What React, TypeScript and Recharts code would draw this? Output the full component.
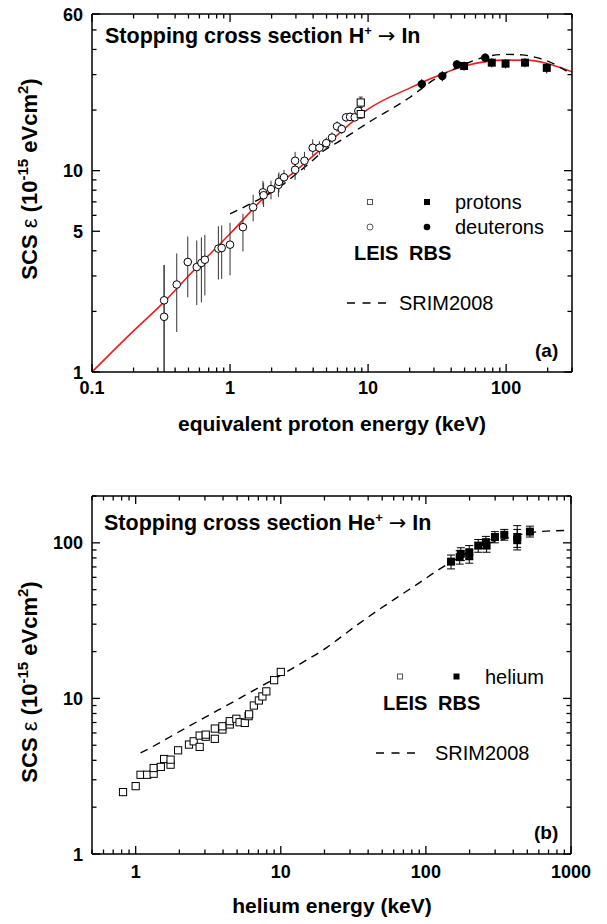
import React from 'react';
import { ComposedChart, Line, Scatter, XAxis, YAxis, ErrorBar } from 'recharts';

const FONT = '"Liberation Sans", Arial, Helvetica, sans-serif';

// ---------- panel (a): H+ -> In ----------
const A_X_TICKS = [0.1, 0.2, 0.3, 0.4, 0.5, 0.6, 0.7, 0.8, 0.9, 1, 2, 3, 4, 5, 6, 7, 8, 9, 10, 20, 30, 40, 50, 60, 70, 80, 90, 100, 200, 300];
const A_X_MAJOR = [0.1, 1, 10, 100];
const A_Y_TICKS = [1, 2, 3, 4, 5, 6, 7, 8, 9, 10, 20, 30, 40, 50, 60];
const A_Y_MAJOR = [1, 5, 10, 60];

// [E keV, S, lower, upper]
const A_LEIS_D = [
  [0.333, 2.27, 1.0, 3.4], [0.333, 1.88, 1.0, 3.4], [0.411, 2.72, 1.58, 3.88], [0.494, 3.52, 2.35, 4.71],
  [0.574, 3.32, 2.15, 4.5], [0.62, 3.48, 2.22, 4.66], [0.657, 3.61, 2.4, 4.8], [0.823, 4.1, 2.88, 5.3],
  [0.87, 4.13, 2.9, 5.35], [1.0, 4.29, 3.02, 5.5], [1.24, 5.24, 3.97, 6.1], [1.47, 6.58, 5.6, 7.6],
  [1.73, 7.8, 6.8, 8.9], [1.75, 7.55, 6.6, 8.7], [1.98, 8.1, 7.2, 8.9], [2.24, 8.5, 7.4, 9.6],
  [2.26, 8.8, 7.8, 9.8], [2.46, 9.27, 8.5, 10.1], [2.96, 10.1, 9.0, 11.4], [2.96, 11.2, 10.2, 12.4],
  [3.46, 11.2, 10.1, 12.4], [3.97, 13.0, 11.9, 14.3], [4.44, 13.0, 12.0, 14.0], [4.98, 13.7, 12.8, 14.6],
  [5.48, 14.6, 13.7, 15.5], [5.96, 16.6, 15.6, 17.6], [6.44, 16.1, 15.2, 17.0], [6.93, 18.4, 17.5, 19.3],
  [7.4, 18.5, 17.6, 19.4], [8.0, 18.4, 17.6, 19.2], [8.5, 19.8, 18.9, 20.7],
];
const A_LEIS_P = [[8.85, 21.8, 20.6, 23.2], [8.85, 19.1, 18.2, 20.0]];
const A_RBS_D = [[24.5, 26.9, 25.3, 28.5], [34.5, 29.5, 27.8, 31.2], [44, 33.7, 32, 35.4], [70.5, 36.4, 34.6, 38.2]];
const A_RBS_P = [[49.6, 33.1, 31.4, 34.8], [78.7, 34.4, 32.6, 36.2], [99, 34.0, 32.2, 35.8], [137, 34.4, 32.6, 36.2], [197, 32.4, 30.4, 34.4]];

const A_FIT_E = [0.1, 0.2, 0.333, 0.5, 1, 2, 3, 6.3, 10, 20, 30, 50, 100, 150, 200, 300];
const A_FIT_S = [1.0, 1.6, 2.23, 3.0, 4.86, 8.0, 10.0, 15.5, 20.2, 25.7, 29.1, 33.1, 35.4, 35.3, 34, 31];
const A_SRIM_E = [1, 1.5, 2.06, 3, 4, 4.8, 6.3, 10, 20, 30, 50, 70, 100, 130, 170, 200, 300];
const A_SRIM_S = [6.1, 7.0, 7.9, 9.6, 11.3, 12.6, 14.1, 17.3, 23.1, 28.3, 33.7, 36.7, 37.8, 37.6, 36.3, 35, 30];

// ---------- panel (b): He+ -> In ----------
const B_X_TICKS = [0.5, 0.6, 0.7, 0.8, 0.9, 1, 2, 3, 4, 5, 6, 7, 8, 9, 10, 20, 30, 40, 50, 60, 70, 80, 90, 100, 200, 300, 400, 500, 600, 700, 800, 900, 1000];
const B_X_MAJOR = [1, 10, 100, 1000];
const B_Y_TICKS = [1, 2, 3, 4, 5, 6, 7, 8, 9, 10, 20, 30, 40, 50, 60, 70, 80, 90, 100, 200];
const B_Y_MAJOR = [1, 10, 100];

const B_LEIS = [
  [0.818, 2.5], [1.0, 2.73], [1.08, 3.23], [1.2, 3.23], [1.33, 3.28], [1.33, 3.57], [1.49, 3.63], [1.57, 4.08],
  [1.74, 3.75], [1.74, 4.04], [1.96, 4.64], [2.33, 5.05], [2.51, 5.3], [2.76, 4.88], [2.76, 5.77], [3.04, 5.67],
  [3.04, 5.85], [3.51, 5.5], [3.51, 6.4], [3.96, 6.31], [3.96, 6.62], [4.45, 6.8], [4.45, 7.14], [4.94, 7.4],
  [5.2, 7.03], [5.65, 6.96], [6.0, 7.69], [6.05, 7.9], [6.52, 9.0], [7.06, 9.7], [7.47, 10.3], [7.95, 11.1],
  [9.0, 13.1], [10.0, 14.8],
];
const B_RBS = [
  [149, 75.7, 68, 83.5], [171, 80.9, 73, 89], [174, 85, 77, 93], [199, 87, 79, 96], [199, 82, 74, 90],
  [229.5, 96, 87, 105], [259, 101, 92, 110], [262, 96, 87, 105], [299, 109, 100, 118], [347, 112.6, 104, 122],
  [426, 109, 93.5, 129], [426, 104, 90, 122], [521, 118, 109, 128],
];
const B_SRIM_E = [1.08, 1.5, 1.96, 3, 4.94, 7, 10, 15, 20.7, 25.5, 35, 48, 66, 91, 125, 149, 200, 250, 324, 430, 550, 680, 938];
const B_SRIM_S = [4.46, 5.25, 6.06, 7.55, 9.75, 11.7, 14.1, 17.6, 21.2, 24.5, 30.5, 37.5, 45.7, 55.7, 68, 75, 88, 97, 104, 112, 117, 119, 120];

const pts = (rows: number[][]) =>
  rows.map(r => (r.length > 2 ? { E: r[0], S: r[1], err: [r[1] - r[2], r[3] - r[1]] } : { E: r[0], S: r[1] }));
const curve = (es: number[], ss: number[]) => es.map((E, i) => ({ E, S: ss[i] }));

type Side = 'left' | 'right' | 'top' | 'bottom';

function makeTick(side: Side, majors: number[], labelDy = 22) {
  return function Tick(props: any) {
    const { x, y, payload } = props;
    const v = Number(payload.value);
    const major = majors.some(m => Math.abs(m - v) < 1e-9);
    const len = major ? 8 : 4.5;
    let x2 = x;
    let y2 = y;
    if (side === 'left') x2 = x + len;
    if (side === 'right') x2 = x - len;
    if (side === 'top') y2 = y + len;
    if (side === 'bottom') y2 = y - len;
    return (
      <g>
        <line x1={x} y1={y} x2={x2} y2={y2} stroke="#000" strokeWidth={1.3} />
        {major && side === 'left' && (
          <text x={x - 9} y={y + 6.5} textAnchor="end" fontSize={18} fontWeight="bold" fontFamily={FONT} fill="#000">
            {String(v)}
          </text>
        )}
        {major && side === 'bottom' && (
          <text x={x} y={y + labelDy} textAnchor="middle" fontSize={18} fontWeight="bold" fontFamily={FONT} fill="#000">
            {String(v)}
          </text>
        )}
      </g>
    );
  };
}

const openCircle = (p: any) => <circle cx={p.cx} cy={p.cy} r={3.8} fill="#fff" stroke="#000" strokeWidth={1} />;
const filledCircle = (p: any) => <circle cx={p.cx} cy={p.cy} r={4.2} fill="#000" />;
const openSquare = (p: any) => <rect x={p.cx - 3.6} y={p.cy - 3.6} width={7.2} height={7.2} fill="#fff" stroke="#000" strokeWidth={1} />;
const filledSquare = (p: any) => <rect x={p.cx - 4} y={p.cy - 4} width={8} height={8} fill="#000" />;

const axisLine = { stroke: '#000', strokeWidth: 1.5 };

// axes of size 1 px: Recharts skips drawing an axis whose box is empty
function axisSet(xDomain: number[], yDomain: number[], xTicks: number[], xMajor: number[], yTicks: number[], yMajor: number[], labelDy: number) {
  const common = { type: 'number' as const, scale: 'log' as const, allowDataOverflow: true, interval: 0 as const, tickLine: false, tickSize: 0, tickMargin: 0, axisLine };
  return [
    <XAxis key="xb" xAxisId="b" dataKey="E" domain={xDomain} ticks={xTicks} height={1} tick={makeTick('bottom', xMajor, labelDy)} {...common} />,
    <XAxis key="xt" xAxisId="t" orientation="top" dataKey="E" domain={xDomain} ticks={xTicks} height={1} tick={makeTick('top', xMajor)} {...common} />,
    <YAxis key="yl" yAxisId="l" dataKey="S" domain={yDomain} ticks={yTicks} width={1} tick={makeTick('left', yMajor)} {...common} />,
    <YAxis key="yr" yAxisId="r" orientation="right" dataKey="S" domain={yDomain} ticks={yTicks} width={1} tick={makeTick('right', yMajor)} {...common} />,
  ];
}

const txt = (props: any) => ({ fontFamily: FONT, fill: '#000', ...props });

function YLabel({ cy }: { cy: number }) {
  return (
    <text {...txt({ fontSize: 22, fontWeight: 'bold' })} transform="rotate(-90)" x={-cy} y={37} textAnchor="middle">
      SCS <tspan fontWeight="normal">ε</tspan> (10<tspan dy={-9} fontSize={15}>-15</tspan>
      <tspan dy={9}> eVcm</tspan><tspan dy={-9} fontSize={15}>2</tspan><tspan dy={9}>)</tspan>
    </text>
  );
}

function Title({ x, y, ion }: { x: number; y: number; ion: string }) {
  return (
    <text {...txt({ fontSize: 21.5, fontWeight: 'bold' })} x={x} y={y}>
      Stopping cross section {ion}<tspan dy={-8} fontSize={13}>+</tspan>
      <tspan dy={8}> </tspan><tspan fontFamily='"DejaVu Sans"' fontWeight="normal" fontSize={21}>→</tspan><tspan> In</tspan>
    </text>
  );
}

export default function App() {
  return (
    <div style={{ position: 'absolute', left: 0, top: 0, width: 607, height: 924, background: '#fff' }}>
      <ComposedChart width={607} height={462} margin={{ top: 13, right: 34, bottom: 89, left: 91 }}>
        {axisSet([0.1, 300], [1, 60], A_X_TICKS, A_X_MAJOR, A_Y_TICKS, A_Y_MAJOR, 22)}
        <Line xAxisId="b" yAxisId="l" data={curve(A_FIT_E, A_FIT_S)} dataKey="S" type="monotone" stroke="#ee1c1c" strokeWidth={1.6} dot={false} activeDot={false} isAnimationActive={false} />
        <Line xAxisId="b" yAxisId="l" data={curve(A_SRIM_E, A_SRIM_S)} dataKey="S" type="monotone" stroke="#000" strokeWidth={1.4} strokeDasharray="8 6" dot={false} activeDot={false} isAnimationActive={false} />
        <Scatter xAxisId="b" yAxisId="l" data={pts(A_LEIS_D)} dataKey="S" shape={openCircle} isAnimationActive={false}>
          <ErrorBar dataKey="err" direction="y" width={0} stroke="#333" strokeWidth={1} />
        </Scatter>
        <Scatter xAxisId="b" yAxisId="l" data={pts(A_LEIS_P)} dataKey="S" shape={openSquare} isAnimationActive={false}>
          <ErrorBar dataKey="err" direction="y" width={2} stroke="#333" strokeWidth={1} />
        </Scatter>
        <Scatter xAxisId="b" yAxisId="l" data={pts(A_RBS_D)} dataKey="S" shape={filledCircle} isAnimationActive={false}>
          <ErrorBar dataKey="err" direction="y" width={0} stroke="#000" strokeWidth={1} />
        </Scatter>
        <Scatter xAxisId="b" yAxisId="l" data={pts(A_RBS_P)} dataKey="S" shape={filledSquare} isAnimationActive={false}>
          <ErrorBar dataKey="err" direction="y" width={0} stroke="#000" strokeWidth={1} />
        </Scatter>

        <Title x={105} y={43} ion="H" />
        <YLabel cy={179} />
        <text {...txt({ fontSize: 21, fontWeight: 'bold' })} x={332} y={431} textAnchor="middle">equivalent proton energy (keV)</text>

        <rect x={367.5} y={199.5} width={5} height={5} fill="#fff" stroke="#555" strokeWidth={1} />
        <rect x={424} y={199} width={6} height={6} fill="#000" />
        <text {...txt({ fontSize: 20 })} x={455} y={209}>protons</text>
        <circle cx={370} cy={227} r={3} fill="#fff" stroke="#555" strokeWidth={1} />
        <circle cx={427} cy={227} r={3.3} fill="#000" />
        <text {...txt({ fontSize: 20 })} x={455} y={234}>deuterons</text>
        <text {...txt({ fontSize: 20, fontWeight: 'bold' })} x={354} y={260}>LEIS</text>
        <text {...txt({ fontSize: 20, fontWeight: 'bold' })} x={409} y={260}>RBS</text>
        <line x1={347} y1={303} x2={386} y2={303} stroke="#000" strokeWidth={1.4} strokeDasharray="8 7.5" />
        <text {...txt({ fontSize: 20 })} x={399} y={310}>SRIM2008</text>
        <text {...txt({ fontSize: 19, fontWeight: 'bold' })} x={535} y={357}>(a)</text>
      </ComposedChart>

      <ComposedChart width={607} height={462} margin={{ top: 33, right: 35, bottom: 69, left: 91 }}>
        {axisSet([0.5, 1000], [1, 200], B_X_TICKS, B_X_MAJOR, B_Y_TICKS, B_Y_MAJOR, 24)}
        <Line xAxisId="b" yAxisId="l" data={curve(B_SRIM_E, B_SRIM_S)} dataKey="S" type="monotone" stroke="#000" strokeWidth={1.4} strokeDasharray="8 6" dot={false} activeDot={false} isAnimationActive={false} />
        <Scatter xAxisId="b" yAxisId="l" data={pts(B_LEIS)} dataKey="S" shape={openSquare} isAnimationActive={false} />
        <Scatter xAxisId="b" yAxisId="l" data={pts(B_RBS)} dataKey="S" shape={filledSquare} isAnimationActive={false}>
          <ErrorBar dataKey="err" direction="y" width={4} stroke="#000" strokeWidth={1} />
        </Scatter>

        <Title x={104} y={68} ion="He" />
        <YLabel cy={220} />
        <text {...txt({ fontSize: 21, fontWeight: 'bold' })} x={332} y={451} textAnchor="middle">helium energy (keV)</text>

        <rect x={397.5} y={212} width={5} height={5} fill="#fff" stroke="#555" strokeWidth={1} />
        <rect x={453.5} y={211.5} width={6} height={6} fill="#000" />
        <text {...txt({ fontSize: 20 })} x={485} y={222}>helium</text>
        <text {...txt({ fontSize: 20, fontWeight: 'bold' })} x={383} y={248}>LEIS</text>
        <text {...txt({ fontSize: 20, fontWeight: 'bold' })} x={438} y={248}>RBS</text>
        <line x1={376} y1={291} x2={418} y2={291} stroke="#000" strokeWidth={1.4} strokeDasharray="8 7.5" />
        <text {...txt({ fontSize: 20 })} x={435} y={298}>SRIM2008</text>
        <text {...txt({ fontSize: 19, fontWeight: 'bold' })} x={534} y={377}>(b)</text>
      </ComposedChart>
    </div>
  );
}
